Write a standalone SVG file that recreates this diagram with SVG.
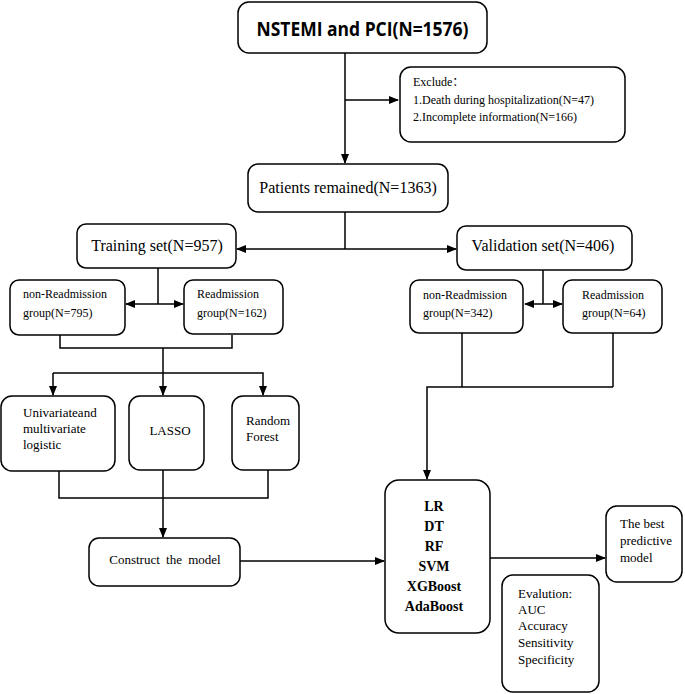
<svg xmlns="http://www.w3.org/2000/svg" width="685" height="694" viewBox="0 0 685 694">
<defs>
<marker id="ah" markerWidth="10" markerHeight="8" refX="9" refY="4" orient="auto-start-reverse" markerUnits="userSpaceOnUse">
<path d="M0,0 L10,4 L0,8 Z" fill="#000"/>
</marker>
<style>
.box{fill:#fff;stroke:#000;stroke-width:1.5}
.t{font-family:"Liberation Serif","Times New Roman",serif;fill:#000}
.c{fill:none;stroke:#000;stroke-width:1.5}
.a{fill:none;stroke:#000;stroke-width:1.5;marker-end:url(#ah)}
.b{fill:none;stroke:#000;stroke-width:1.5;marker-end:url(#ah);marker-start:url(#ah)}
</style>
</defs>
<rect width="685" height="694" fill="#fff"/>
<g id="connectors">
<line class="a" x1="345" y1="53" x2="345" y2="163"/>
<line class="a" x1="345" y1="100" x2="398" y2="100"/>
<line class="c" x1="345" y1="212" x2="345" y2="249"/>
<line class="b" x1="237" y1="249" x2="456" y2="249"/>
<line class="c" x1="158" y1="268" x2="158" y2="304"/>
<line class="b" x1="126" y1="304" x2="183" y2="304"/>
<line class="c" x1="543" y1="270" x2="543" y2="304"/>
<line class="b" x1="525" y1="304" x2="562" y2="304"/>
<path class="c" d="M60,335 V348 H232 V335"/>
<path class="c" d="M163,348 V373"/>
<path class="a" d="M53,373 H263 V395"/>
<path class="a" d="M163,373 V395"/>
<path class="a" d="M53,373 V395"/>
<path class="c" d="M59,471 V498 H268 V470"/>
<path class="a" d="M163,470 V537"/>
<path class="c" d="M462,333 V387"/>
<path class="c" d="M613,333 V387"/>
<path class="a" d="M613,387 H427 V479"/>
<line class="a" x1="240" y1="561" x2="384" y2="561"/>
<line class="a" x1="490" y1="558" x2="605" y2="558"/>
</g>
<g id="n-top">
<rect class="box" x="238" y="2" width="249" height="51" rx="11" stroke-width="2"/>
<text x="362.5" y="36" text-anchor="middle" font-family="'Open Sans','Liberation Sans',sans-serif" font-weight="bold" font-size="20" textLength="212" lengthAdjust="spacingAndGlyphs">NSTEMI and PCI(N=1576)</text>
</g>
<g id="n-exclude">
<rect class="box" x="400" y="67" width="225" height="75" rx="11"/>
<text class="t" font-size="12"><tspan x="413" y="86" font-family="'Liberation Serif','Noto Sans CJK SC',serif">Exclude：</tspan><tspan x="413" y="104">1.Death during hospitalization(N=47)</tspan><tspan x="413" y="121">2.Incomplete information(N=166)</tspan></text>
</g>
<g id="n-patients">
<rect class="box" x="248" y="164" width="200" height="48" rx="10"/>
<text class="t" x="348" y="193" text-anchor="middle" font-size="16">Patients remained(N=1363)</text>
</g>
<g id="n-training">
<rect class="box" x="77" y="224" width="159" height="44" rx="9"/>
<text class="t" x="157" y="251" text-anchor="middle" font-size="16">Training set(N=957)</text>
</g>
<g id="n-validation">
<rect class="box" x="457" y="226" width="175" height="44" rx="9"/>
<text class="t" x="543" y="251" text-anchor="middle" font-size="16">Validation set(N=406)</text>
</g>
<g id="n-train-non">
<rect class="box" x="10" y="280" width="115" height="55" rx="9"/>
<text class="t" font-size="12"><tspan x="23" y="298">non-Readmission</tspan><tspan x="23" y="317">group(N=795)</tspan></text>
</g>
<g id="n-train-re">
<rect class="box" x="184" y="280" width="99" height="54" rx="9"/>
<text class="t" font-size="12"><tspan x="197" y="298">Readmission</tspan><tspan x="197" y="317">group(N=162)</tspan></text>
</g>
<g id="n-val-non">
<rect class="box" x="410" y="280" width="113" height="53" rx="9"/>
<text class="t" font-size="12"><tspan x="423" y="299">non-Readmission</tspan><tspan x="423" y="317">group(N=342)</tspan></text>
</g>
<g id="n-val-re">
<rect class="box" x="563" y="280" width="99" height="53" rx="9"/>
<text class="t" font-size="12"><tspan x="582" y="299">Readmission</tspan><tspan x="582" y="317">group(N=64)</tspan></text>
</g>
<g id="n-uni">
<rect class="box" x="1" y="396" width="114" height="75" rx="11"/>
<text class="t" font-size="13"><tspan x="23" y="417">Univariateand</tspan><tspan x="23" y="433">multivariate</tspan><tspan x="23" y="449">logistic</tspan></text>
</g>
<g id="n-lasso">
<rect class="box" x="129" y="396" width="75" height="74" rx="11"/>
<text class="t" x="170" y="435" text-anchor="middle" font-size="13">LASSO</text>
</g>
<g id="n-rf">
<rect class="box" x="232" y="396" width="67" height="74" rx="11"/>
<text class="t" font-size="13"><tspan x="246" y="425">Random</tspan><tspan x="246" y="441">Forest</tspan></text>
</g>
<g id="n-construct">
<rect class="box" x="89" y="538" width="151" height="48" rx="10"/>
<text class="t" x="165" y="564" text-anchor="middle" font-size="13" word-spacing="3">Construct the model</text>
</g>
<g id="n-models">
<rect class="box" x="385" y="480" width="105" height="153" rx="14"/>
<text class="t" font-size="14" font-weight="bold" text-anchor="middle"><tspan x="434" y="511">LR</tspan><tspan x="434" y="531">DT</tspan><tspan x="434" y="551">RF</tspan><tspan x="434" y="571">SVM</tspan><tspan x="434" y="591">XGBoost</tspan><tspan x="434" y="611">AdaBoost</tspan></text>
</g>
<g id="n-best">
<rect class="box" x="606" y="506" width="76" height="76" rx="11"/>
<text class="t" font-size="13"><tspan x="620" y="528">The best</tspan><tspan x="620" y="545">predictive</tspan><tspan x="620" y="562">model</tspan></text>
</g>
<g id="n-eval">
<rect class="box" x="502" y="575" width="97" height="117" rx="11"/>
<text class="t" font-size="13"><tspan x="518" y="598">Evalution:</tspan><tspan x="518" y="614">AUC</tspan><tspan x="518" y="630">Accuracy</tspan><tspan x="518" y="647">Sensitivity</tspan><tspan x="518" y="664">Specificity</tspan></text>
</g>
</svg>
